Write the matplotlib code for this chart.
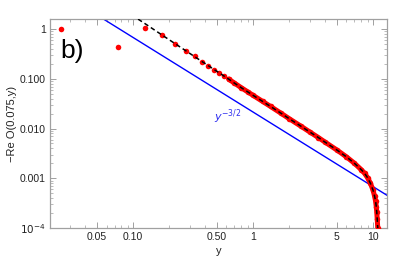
import matplotlib
matplotlib.use("Agg")
import matplotlib.pyplot as plt
from matplotlib.ticker import FixedLocator, NullFormatter

# isolated numerical points (red dots, y grid 0.025 + 0.05 k)
dots_y = [0.025, 0.075, 0.125, 0.175, 0.225, 0.275, 0.325, 0.375, 0.425,
          0.475, 0.525, 0.575, 0.625]
dots_val = [1.0, 0.436, 1.05, 0.77, 0.506, 0.366, 0.282, 0.222, 0.182,
            0.154, 0.131, 0.113, 0.098]

# curve read along the dashed line / dense red band
curve_y = [0.11, 0.125, 0.175, 0.225, 0.275, 0.325, 0.375, 0.425, 0.475,
           0.525, 0.575, 0.625, 0.7, 0.8, 0.9, 1.0, 1.2, 1.4, 1.7, 2.0,
           2.5, 3.0, 3.5, 4.0, 5.0, 6.0, 7.0, 8.0, 8.5, 9.0, 9.5, 10.0,
           10.3, 10.5, 10.65, 10.75, 10.85, 10.95, 10.99]
curve_val = [1.59, 1.30, 0.756, 0.506, 0.367, 0.281, 0.223, 0.183, 0.153,
             0.131, 0.113, 0.099, 0.082, 0.066, 0.055, 0.0466, 0.0352,
             0.0278, 0.0205, 0.0158, 0.0112, 0.0084, 0.0066, 0.0053,
             0.0037, 0.0027, 0.0020, 0.00148, 0.00126, 0.00103, 8.0e-4,
             5.8e-4, 4.4e-4, 3.5e-4, 2.7e-4, 2.1e-4, 1.5e-4, 1.02e-4, 7e-5]
band_start = 11

# y^-3/2 reference line (end points)
ref_y = [0.05, 14.0]
ref_val = [1.92, 4.1e-4]

plt.rcParams["font.family"] = ["Liberation Sans", "DejaVu Sans"]

fig = plt.figure(figsize=(4.07, 2.62), dpi=100)
ax = fig.add_axes([0.123, 0.130, 0.828, 0.797])

ax.plot(ref_y, ref_val, color="#0000ff", lw=1.0, zorder=2)
ax.plot(curve_y[band_start:], curve_val[band_start:], color="red", lw=3.6,
        solid_capstyle="round", zorder=3)
ax.plot(curve_y[band_start:], curve_val[band_start:], "o", color="red",
        ms=4, mec="none", zorder=3)
ax.plot(dots_y, dots_val, "o", color="red", ms=4, mec="none", zorder=3)
ax.plot(curve_y, curve_val, color="black", lw=1.1, dashes=(3, 2), zorder=4)

ax.set_xscale("log")
ax.set_yscale("log")
ax.set_xlim(0.0203, 13.1)
ax.set_ylim(1e-4, 1.59)

xt = [0.05, 0.1, 0.5, 1, 5, 10]
ax.xaxis.set_major_locator(FixedLocator(xt))
ax.set_xticklabels(["0.05", "0.10", "0.50", "1", "5", "10"])
xm = [0.03, 0.04, 0.06, 0.07, 0.08, 0.09, 0.2, 0.3, 0.4, 0.6, 0.7, 0.8,
      0.9, 2, 3, 4, 6, 7, 8, 9]
ax.xaxis.set_minor_locator(FixedLocator(xm))
ax.xaxis.set_minor_formatter(NullFormatter())

yt = [1e-4, 1e-3, 1e-2, 1e-1, 1]
ax.yaxis.set_major_locator(FixedLocator(yt))
ax.set_yticklabels(["$10^{-4}$", "0.001", "0.010", "0.100", "1"])
ym = [m * 10.0 ** e for e in range(-4, 1) for m in range(2, 10)]
ax.yaxis.set_minor_locator(FixedLocator(ym))
ax.yaxis.set_minor_formatter(NullFormatter())

for s in ax.spines.values():
    s.set_color("#a0a0a0")
    s.set_linewidth(0.9)
ax.tick_params(which="both", direction="in", top=True, right=True,
               color="#a0a0a0", labelsize=7.5, labelcolor="#222222", pad=3)
ax.tick_params(which="major", length=4, width=0.7)
ax.tick_params(which="minor", length=2, width=0.5)

ax.set_xlabel("y", fontsize=8, color="#222222", labelpad=3)
ax.set_ylabel("\u2212Re O(0.075,y)", fontsize=8, color="#222222", labelpad=2)

ax.text(0.031, 0.37, "b)", fontsize=19, ha="center", va="center")
ax.text(0.62, 0.0174, "$y^{-3/2}$", color="#3030f0", fontsize=8,
        ha="center", va="center")

fig.savefig("out.png", dpi=100)
